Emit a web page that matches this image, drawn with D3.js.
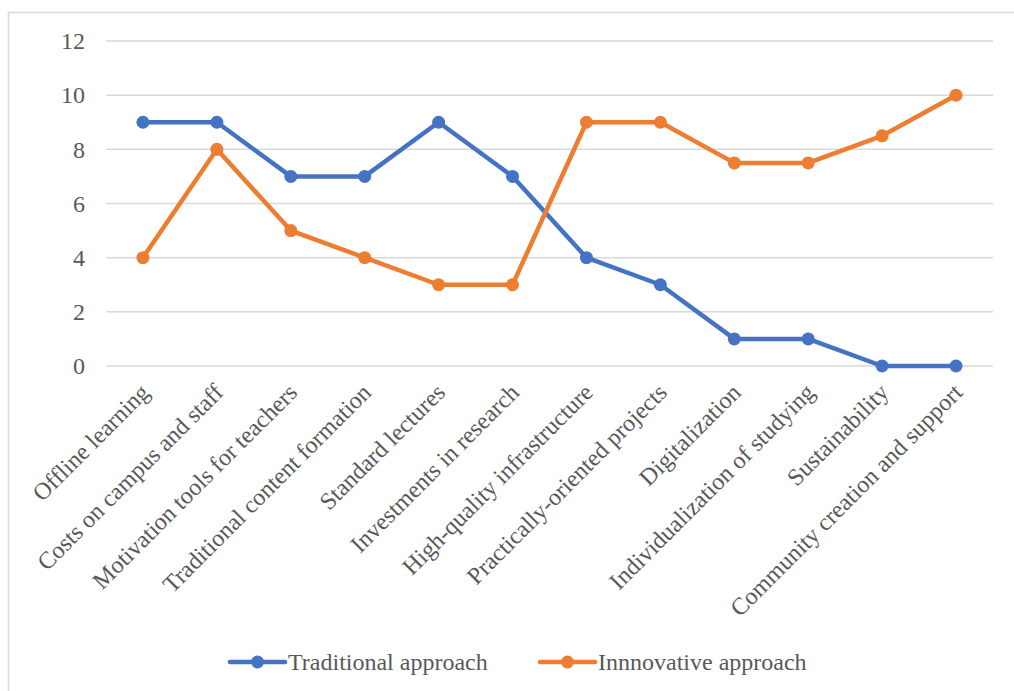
<!DOCTYPE html>
<html>
<head>
<meta charset="utf-8">
<script src="https://cdn.jsdelivr.net/npm/d3@7"></script>
<style>
  body { margin: 0; background: #fff; }
  text { font-family: "Liberation Serif", "Times New Roman", serif; fill: #595959; }
</style>
</head>
<body>
<div id="chart"></div>
<script>
const categories = ["Offline learning", "Costs on campus and staff", "Motivation tools for teachers",
  "Traditional content formation", "Standard lectures", "Investments in research",
  "High-quality infrastructure", "Practically-oriented projects", "Digitalization",
  "Individualization of studying", "Sustainability", "Community creation and support"];
const traditional = [9, 9, 7, 7, 9, 7, 4, 3, 1, 1, 0, 0];
const innovative = [4, 8, 5, 4, 3, 3, 9, 9, 7.5, 7.5, 8.5, 10];
const yTicks = [0, 2, 4, 6, 8, 10, 12];

const series = [
  {name: "Traditional approach", values: traditional, color: "#4472C4"},
  {name: "Innnovative approach", values: innovative, color: "#ED7D31"}
];

const W = 1014, H = 691;
const plot = {left: 106, right: 993, top: 41, bottom: 366};
const fontSize = "24px";

const svg = d3.select("#chart").append("svg")
  .attr("width", W)
  .attr("height", H);

// chart frame
svg.append("rect")
  .attr("x", 8.5).attr("y", 12.5)
  .attr("width", 1200).attr("height", 900)
  .attr("fill", "none")
  .attr("stroke", "#d9d9d9")
  .attr("stroke-width", 1.5);

const x = d3.scaleBand()
  .domain(categories)
  .range([plot.left, plot.right]);

const y = d3.scaleLinear()
  .domain([0, 12])
  .range([plot.bottom, plot.top]);

// gridlines
svg.append("g")
  .selectAll("line")
  .data(yTicks)
  .enter()
  .append("line")
  .attr("x1", plot.left).attr("x2", plot.right)
  .attr("y1", d => y(d)).attr("y2", d => y(d))
  .attr("stroke", "#d9d9d9")
  .attr("stroke-width", 1.5);

// y axis
const yAxis = svg.append("g")
  .attr("transform", `translate(${plot.left},0)`)
  .call(d3.axisLeft(y).tickValues(yTicks).tickSize(0).tickPadding(21));
yAxis.select(".domain").remove();
yAxis.selectAll("text")
  .style("font-family", "'Liberation Serif', serif")
  .style("font-size", fontSize)
  .attr("fill", "#595959");

// x axis labels
svg.append("g")
  .selectAll("text")
  .data(categories)
  .enter()
  .append("text")
  .attr("transform", d => `translate(${x(d) + x.bandwidth() / 2 - 4},${plot.bottom + 16}) rotate(-45)`)
  .attr("text-anchor", "end")
  .attr("dy", "0.7em")
  .style("font-size", fontSize)
  .text(d => d);

const line = d3.line()
  .x((d, i) => x(categories[i]) + x.bandwidth() / 2)
  .y(d => y(d));

series.forEach(s => {
  svg.append("path")
    .datum(s.values)
    .attr("fill", "none")
    .attr("stroke", s.color)
    .attr("stroke-width", 4.5)
    .attr("stroke-linejoin", "round")
    .attr("d", line);

  svg.append("g")
    .selectAll("circle")
    .data(s.values)
    .enter()
    .append("circle")
    .attr("cx", (d, i) => x(categories[i]) + x.bandwidth() / 2)
    .attr("cy", d => y(d))
    .attr("r", 6.5)
    .attr("fill", s.color);
});

// legend
const legendX = [230, 540];
const legend = svg.append("g");
series.forEach((s, i) => {
  const g = legend.append("g").attr("transform", `translate(${legendX[i]},662)`);
  g.append("line")
    .attr("x1", 0).attr("x2", 55)
    .attr("stroke", s.color)
    .attr("stroke-width", 4.5)
    .attr("stroke-linecap", "round");
  g.append("circle")
    .attr("cx", 27.5).attr("r", 6.5)
    .attr("fill", s.color);
  g.append("text")
    .attr("x", 58)
    .attr("dy", "0.35em")
    .style("font-size", fontSize)
    .text(s.name);
});
</script>
</body>
</html>
